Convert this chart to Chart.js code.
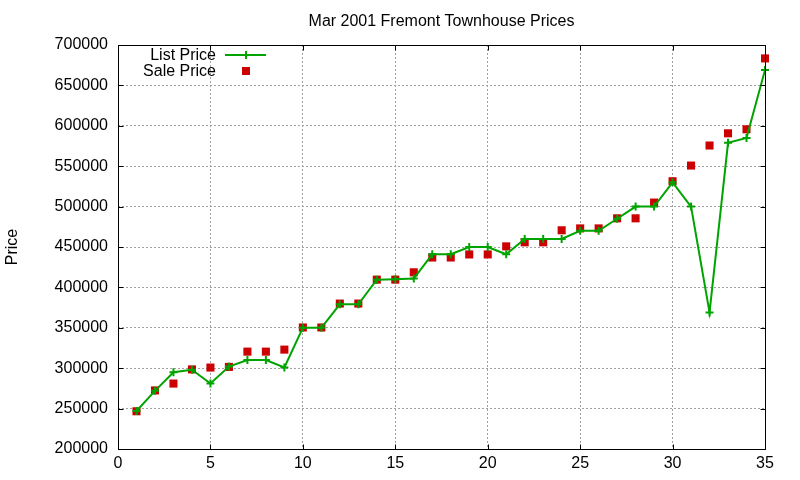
<!DOCTYPE html>
<html>
<head>
<meta charset="utf-8">
<title>Mar 2001 Fremont Townhouse Prices</title>
<script src="https://cdn.jsdelivr.net/npm/chart.js@4/dist/chart.umd.min.js"></script>
<style>
  html, body { margin: 0; padding: 0; background: #fff; }
  canvas { display: block; }
</style>
</head>
<body>
<canvas id="myChart" width="800" height="480"></canvas>
<script>
const chartTitle = 'Mar 2001 Fremont Townhouse Prices'
const yTitle = 'Price'
const seriesNames = ['List Price', 'Sale Price']

const listing = [
  1, 2, 3, 4, 5, 6, 7, 8, 9, 10, 11, 12, 13, 14, 15, 16, 17, 18,
  19, 20, 21, 22, 23, 24, 25, 26, 27, 28, 29, 30, 31, 32, 33, 34, 35,
]
const listPrice = [
  247000, 272000, 295000, 298000, 281000, 302000, 310000, 310000, 301000,
  350000, 350000, 379000, 379000, 409500, 410000, 411000, 441000, 441000,
  449900, 449900, 441000, 460000, 460000, 460000, 470000, 470000, 485000,
  500000, 500000, 530000, 500000, 369000, 579000, 585000, 669000,
]
const salePrice = [
  246700, 272500, 281000, 298500, 300800, 301600, 320500, 320500, 323000,
  350400, 350400, 380000, 380000, 409600, 409600, 418700, 437000, 437000,
  440800, 440800, 450800, 455800, 455800, 470700, 473000, 473000, 485500,
  485500, 505000, 531400, 550800, 575600, 590700, 595700, 683400,
]
const xTicks = [0, 5, 10, 15, 20, 25, 30, 35]
const yTicks = [200000, 250000, 300000, 350000, 400000, 450000, 500000, 550000, 600000, 650000, 700000]

const green = '#00a400'
const red = '#cc0000'
const font = '"Liberation Sans", Arial, sans-serif'

const toPoints = (ys) => listing.map((x, i) => ({ x: x, y: ys[i] }))

// gnuplot look: black frame, inward tics on all sides, title, key, y label
const gnuplotFrame = {
  id: 'gnuplotFrame',
  afterDraw(chart) {
    const { ctx, chartArea: a, scales } = chart
    const left = Math.round(a.left) + 0.5
    const right = Math.round(a.right) + 0.5
    const top = Math.round(a.top) + 0.5
    const bottom = Math.round(a.bottom) + 0.5
    ctx.save()
    ctx.strokeStyle = '#000'
    ctx.lineWidth = 1
    ctx.beginPath()
    xTicks.forEach((v) => {
      let px = Math.round(scales.x.getPixelForValue(v)) + 0.5
      ctx.moveTo(px, bottom)
      ctx.lineTo(px, bottom - 5)
      ctx.moveTo(px, top)
      ctx.lineTo(px, top + 5)
    })
    yTicks.forEach((v) => {
      let py = Math.round(scales.y.getPixelForValue(v)) + 0.5
      ctx.moveTo(left, py)
      ctx.lineTo(left + 5, py)
      ctx.moveTo(right, py)
      ctx.lineTo(right - 5, py)
    })
    ctx.stroke()
    ctx.strokeRect(left, top, right - left, bottom - top)

    ctx.fillStyle = '#000'
    ctx.font = '16px ' + font
    ctx.textAlign = 'center'
    ctx.textBaseline = 'middle'
    ctx.fillText(chartTitle, (a.left + a.right) / 2, 22)

    ctx.save()
    ctx.translate(13, 247)
    ctx.rotate(-Math.PI / 2)
    ctx.fillText(yTitle, 0, 0)
    ctx.restore()

    // key
    ctx.textAlign = 'right'
    ctx.fillText(seriesNames[0], 216, 56)
    ctx.fillText(seriesNames[1], 216, 71.5)
    ctx.strokeStyle = green
    ctx.lineWidth = 2
    ctx.beginPath()
    ctx.moveTo(225, 55)
    ctx.lineTo(266, 55)
    ctx.moveTo(246, 51)
    ctx.lineTo(246, 59)
    ctx.stroke()
    ctx.fillStyle = red
    ctx.fillRect(242, 67, 8, 8)
    ctx.restore()
  },
}

const config = {
  type: 'scatter',
  data: {
    datasets: [
      {
        label: seriesNames[0],
        data: toPoints(listPrice),
        showLine: true,
        borderColor: green,
        backgroundColor: green,
        borderWidth: 2,
        pointStyle: 'cross',
        pointRadius: 4,
        pointBorderWidth: 2,
        clip: false,
      },
      {
        label: seriesNames[1],
        data: toPoints(salePrice),
        showLine: false,
        borderColor: red,
        backgroundColor: red,
        pointStyle: 'rect',
        pointRadius: 5.7,
        pointBorderWidth: 0,
        clip: false,
      },
    ],
  },
  options: {
    responsive: false,
    animation: false,
    devicePixelRatio: 1,
    layout: { padding: { top: 45, right: 35, left: 0, bottom: 0 } },
    plugins: {
      legend: { display: false },
      title: { display: false },
      tooltip: { enabled: false },
    },
    scales: {
      x: {
        type: 'linear',
        min: 0,
        max: 35,
        afterFit: (scale) => { scale.height = 31 },
        afterBuildTicks: (scale) => { scale.ticks = xTicks.map((v) => ({ value: v })) },
        ticks: {
          color: '#000',
          padding: 5,
          maxRotation: 0,
          font: { family: font, size: 16 },
        },
        grid: { color: '#a0a0a0', lineWidth: 1, drawTicks: false },
        border: { display: false, dash: [2, 2] },
      },
      y: {
        type: 'linear',
        min: 200000,
        max: 700000,
        afterFit: (scale) => { scale.width = 118 },
        afterBuildTicks: (scale) => { scale.ticks = yTicks.map((v) => ({ value: v })) },
        ticks: {
          color: '#000',
          padding: 10,
          font: { family: font, size: 16 },
          callback: (v) => String(v),
        },
        grid: { color: '#a0a0a0', lineWidth: 1, drawTicks: false },
        border: { display: false, dash: [2, 2] },
      },
    },
  },
  plugins: [gnuplotFrame],
}

var myChart = new Chart(document.getElementById('myChart'), config)
</script>
</body>
</html>
